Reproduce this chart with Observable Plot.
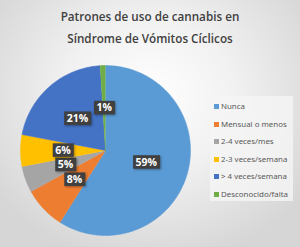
<!DOCTYPE html>
<html><head><meta charset="utf-8">
<script src="https://cdn.jsdelivr.net/npm/d3@7"></script>
<script src="https://cdn.jsdelivr.net/npm/@observablehq/plot@0.6"></script>
<style>
html,body{margin:0;padding:0;}
#wrap{position:relative;width:300px;height:247px;overflow:hidden;
 background:radial-gradient(ellipse 190px 170px at 150px 95px,#ffffff 0%,#f1f1f1 45%,#d6d6d6 100%);}
#title{position:absolute;left:0;top:5px;width:300px;text-align:center;font-family:"Open Sans",sans-serif;font-weight:600;font-size:11.7px;line-height:22px;color:#404040;}
#legend{position:absolute;left:210px;top:96px;width:83px;height:105px;background:rgba(245,245,245,0.8);font-family:"Noto Sans",sans-serif;font-size:7.9px;color:#595959;}
#legend div{position:absolute;left:4px;white-space:nowrap;line-height:10px;}
#legend span{display:inline-block;width:5px;height:5px;margin-right:2px;vertical-align:0px;}
#chart{position:absolute;left:0;top:0;}
</style></head>
<body><div id="wrap"><div id="title">Patrones de uso de cannabis en<br>Síndrome de Vómitos Cíclicos</div><div id="chart"></div><div id="legend"></div></div>
<script>
const categories = ["Nunca","Mensual o menos","2-4 veces/mes","2-3 veces/semana","> 4 veces/semana","Desconocido/falta"];
const values = [59, 8, 5, 6, 21, 1];
const colors = ["#5B9BD5","#ED7D31","#A5A5A5","#FFC000","#4472C4","#70AD47"];

const total = d3.sum(values);
const slices = [];
const labels = [];
let acc = 0;
categories.forEach((c,i) => {
  const a0 = acc/total*2*Math.PI, a1 = (acc+values[i])/total*2*Math.PI;
  acc += values[i];
  slices.push({cat:c, x:0, y:0});
  const n = Math.max(2, Math.ceil((a1-a0)/0.02));
  for (let k=0;k<=n;k++){ const a=a0+(a1-a0)*k/n; slices.push({cat:c, x:Math.sin(a), y:Math.cos(a)}); }
  const m=(a0+a1)/2;
  labels.push({cat:c, text: values[i]+"%", x:0.5*Math.sin(m), y:0.5*Math.cos(m)});
});

const plot = Plot.plot({
  width:300, height:247,
  marginLeft:20, marginRight:110, marginTop:65, marginBottom:12,
  x:{domain:[-1,1], axis:null}, y:{domain:[-1,1], axis:null},
  color:{domain:categories, range:colors},
  style:{background:"transparent"},
  marks:[
    Plot.line(slices, {x:"x", y:"y", z:"cat", fill:"cat", stroke:"cat", strokeWidth:0.5, curve:"linear"}),
    Plot.text(labels, {x:"x", y:"y", text:"text", fill:"white", fontWeight:"bold", fontSize:10.5, fontFamily:"Open Sans, sans-serif"})
  ]
});
document.getElementById("chart").appendChild(plot);
// boxes behind labels
plot.querySelectorAll("text").forEach(t => {
  const b = t.getBBox();
  const r = document.createElementNS("http://www.w3.org/2000/svg","rect");
  r.setAttribute("x", b.x-2.5); r.setAttribute("y", b.y+0.5);
  r.setAttribute("width", b.width+5); r.setAttribute("height", b.height-0.5);
  r.setAttribute("fill","#404040");
  r.setAttribute("style","filter:drop-shadow(1px 1px 1px rgba(0,0,0,0.35))");
  const tr = t.getAttribute("transform");
  if (tr) r.setAttribute("transform", tr);
  t.parentNode.insertBefore(r, t);
});
const lg = document.getElementById("legend");
categories.forEach((c,i) => {
  const d = document.createElement("div");
  d.style.top = (5 + i*17.6) + "px";
  d.innerHTML = `<span style="background:${colors[i]}"></span>${c.replace(">", "&gt;")}`;
  lg.appendChild(d);
});
</script></body></html>
